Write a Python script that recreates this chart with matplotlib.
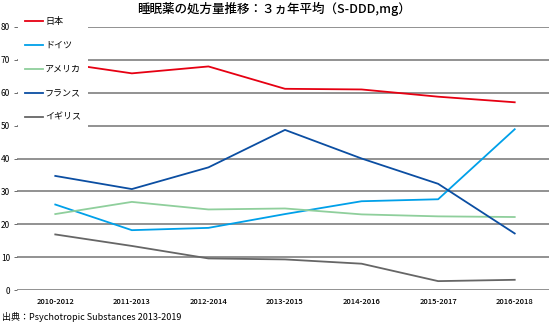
import matplotlib.pyplot as plt

plt.rcParams['font.family'] = ['Noto Sans CJK JP', 'DejaVu Sans']

# 3ヵ年平均の期間
periods = ["2010-2012", "2011-2013", "2012-2014", "2013-2015",
           "2014-2016", "2015-2017", "2016-2018"]

# 国別の処方量 (S-DDD, mg)
japan = [69.3, 65.9, 68.0, 61.2, 61.0, 58.8, 57.1]
germany = [26.0, 18.2, 18.9, 23.1, 27.0, 27.6, 48.9]
usa = [23.1, 26.8, 24.5, 24.8, 23.0, 22.4, 22.2]
france = [34.7, 30.7, 37.3, 48.7, 40.0, 32.3, 17.2]
uk = [16.9, 13.4, 9.6, 9.3, 8.0, 2.7, 3.1]

series = [
    ("日本", japan, "#e60012"),
    ("ドイツ", germany, "#00a0e9"),
    ("アメリカ", usa, "#8fcf9c"),
    ("フランス", france, "#0b4ea2"),
    ("イギリス", uk, "#666666"),
]

fig = plt.figure(figsize=(5.49, 3.24), dpi=100)
ax = fig.add_axes([17 / 549, 1 - 290 / 324, 536 / 549, 263 / 324])

x = range(len(periods))
for name, vals, color in series:
    ax.plot(x, vals, color=color, lw=1.3, label=name, zorder=3)

ax.set_xlim(-0.5, 6.5)
ax.set_ylim(0, 80)
ax.set_yticks(range(0, 81, 10))
ax.set_xticks(list(x))
ax.set_xticklabels(periods, fontsize=5.5, fontweight="medium")
ax.tick_params(axis="x", length=0, pad=6)
ax.tick_params(axis="y", labelsize=6, length=2, width=0.6, pad=3,
               color="#555555")
ax.grid(axis="y", color="#7f7f7f", lw=1.2, zorder=1)
for s in ax.spines.values():
    s.set_visible(False)

fig.suptitle("睡眠薬の処方量推移：３ヵ年平均（S-DDD,mg）",
             fontsize=9, y=0.995, fontweight="medium")

leg = fig.legend(loc="upper left", bbox_to_anchor=(18 / 549, 1 - 10 / 324),
                 fontsize=6.5, handlelength=2.0, handletextpad=0.2,
                 labelspacing=1.65, borderpad=0.8, borderaxespad=0,
                 frameon=True, fancybox=False)
leg.get_frame().set_facecolor("white")
leg.get_frame().set_edgecolor("none")
leg.get_frame().set_alpha(1)

fig.text(2 / 549, 1 - 317 / 324, "出典：Psychotropic Substances 2013-2019",
         fontsize=6.5, va="center", ha="left")

fig.savefig("out.png", dpi=100)
